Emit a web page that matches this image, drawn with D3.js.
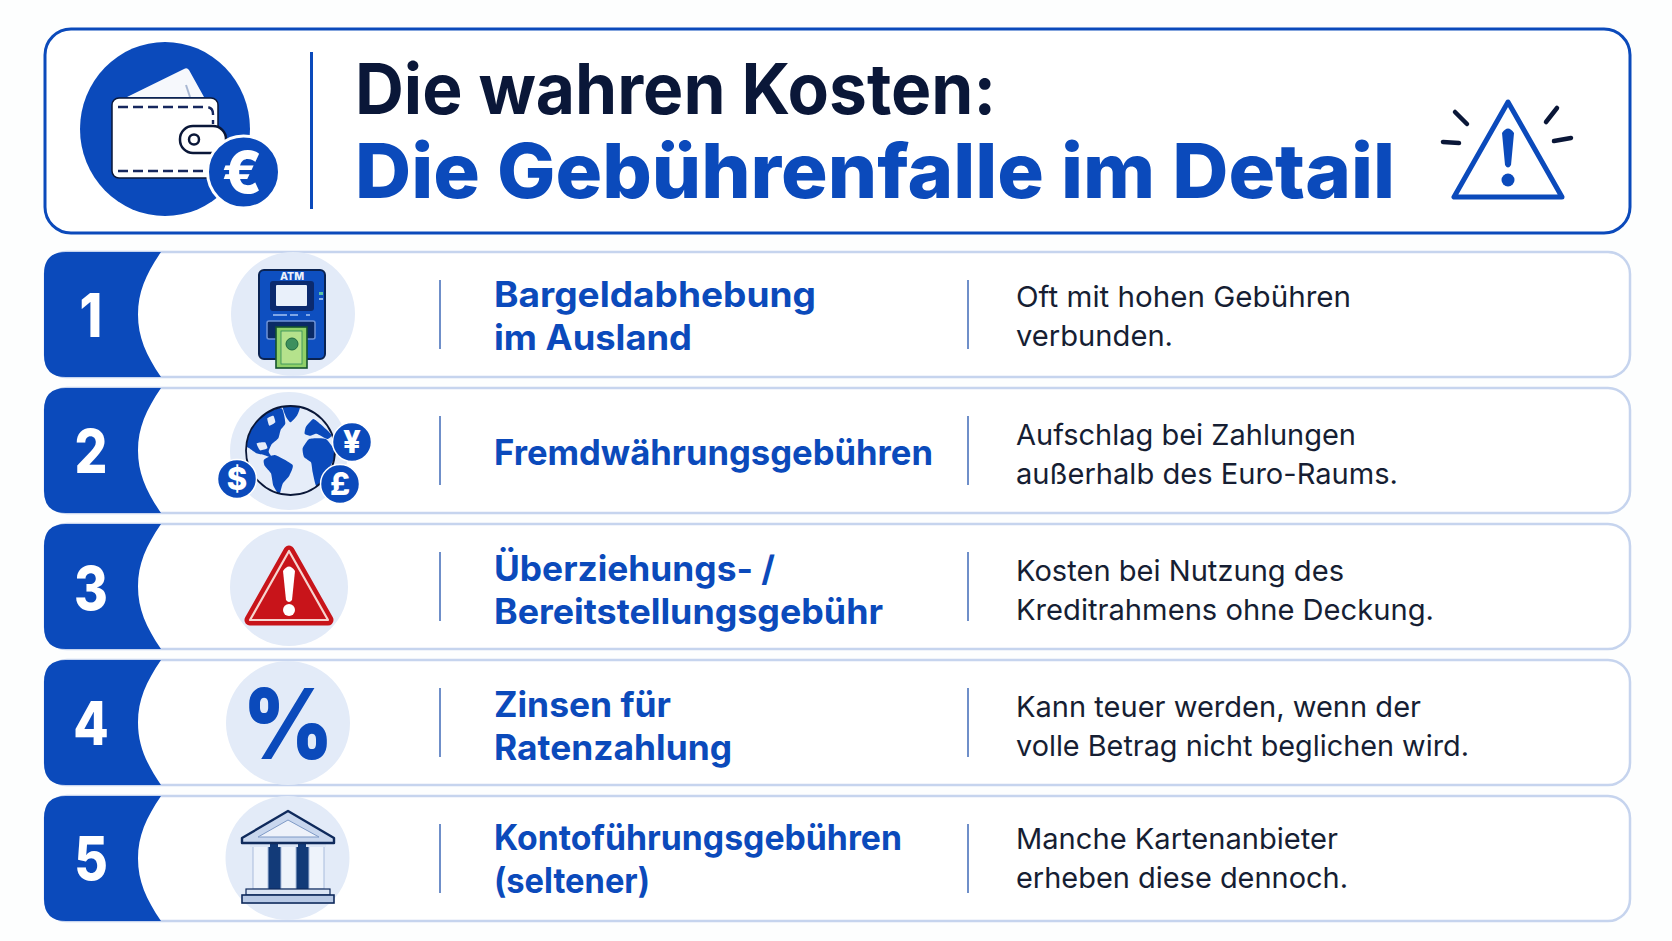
<!DOCTYPE html>
<html lang="de">
<head>
<meta charset="utf-8">
<title>Die wahren Kosten</title>
<script src="https://cdn.jsdelivr.net/npm/d3@7"></script>
<style>
  body { margin: 0; background: #fdfefe; }
  svg { display: block; }
  text { font-family: Inter, "Noto Sans", sans-serif; }
</style>
</head>
<body>
<div id="chart"></div>
<script>
const titleLine = 'Die wahren Kosten:';
const subtitleLine = 'Die Gebührenfalle im Detail';
const rowNumbers = ['1', '2', '3', '4', '5'];
const rowHeadings = [
  ['Bargeldabhebung', 'im Ausland'],
  ['Fremdwährungsgebühren'],
  ['Überziehungs- /', 'Bereitstellungsgebühr'],
  ['Zinsen für', 'Ratenzahlung'],
  ['Kontoführungsgebühren', '(seltener)'],
];
const rowTexts = [
  ['Oft mit hohen Gebühren', 'verbunden.'],
  ['Aufschlag bei Zahlungen', 'außerhalb des Euro-Raums.'],
  ['Kosten bei Nutzung des', 'Kreditrahmens ohne Deckung.'],
  ['Kann teuer werden, wenn der', 'volle Betrag nicht beglichen wird.'],
  ['Manche Kartenanbieter', 'erheben diese dennoch.'],
];

const width = 1672;
const height = 941;
const blue = '#0b4abb';
const navy = '#0a1738';
const pale = '#e3ebf8';
const edge = '#c6d4ee';

const headingWidths = [[322, 198], [439], [281, 389], [177, 238], [408, 156]];
const textWidths = [[335, 157], [340, 382], [328, 418], [405, 453], [322, 332]];
const headingNudge = [0, 0, 2, 2, -1];
const textNudge = [0, 2, 2, 1.5, -2];
const numberNudge = [1, 1, 1, 0, -1];

const svg = d3.select('#chart').append('svg')
  .attr('width', width)
  .attr('height', height)
  .attr('viewBox', `0 0 ${width} ${height}`);

svg.append('rect').attr('width', width).attr('height', height).attr('fill', '#fdfefe');

// Header box
const header = svg.append('g');
header.append('rect')
  .attr('x', 45).attr('y', 29).attr('width', 1585).attr('height', 204).attr('rx', 26)
  .attr('fill', '#fff').attr('stroke', blue).attr('stroke-width', 3);
header.append('line')
  .attr('x1', 311.5).attr('x2', 311.5).attr('y1', 52).attr('y2', 209)
  .attr('stroke', blue).attr('stroke-width', 3);
header.append('text').text(titleLine)
  .attr('x', 355).attr('y', 114)
  .attr('textLength', 641).attr('lengthAdjust', 'spacingAndGlyphs')
  .attr('font-size', 70).attr('font-weight', 700).attr('fill', navy);
header.append('text').text(subtitleLine)
  .attr('x', 355).attr('y', 198)
  .attr('textLength', 1040).attr('lengthAdjust', 'spacingAndGlyphs')
  .attr('font-size', 76).attr('font-weight', 800).attr('fill', blue);

// Wallet badge
const wallet = svg.append('g');
wallet.append('ellipse')
  .attr('cx', 165).attr('cy', 129).attr('rx', 85).attr('ry', 87).attr('fill', blue);
wallet.append('path')
  .attr('d', 'M127,97 L184,69 Q187,67 189,70 L204,97 Z')
  .attr('fill', '#f6f8fc');
wallet.append('path')
  .attr('d', 'M186,85 L190,97')
  .attr('fill', 'none').attr('stroke', '#a9b8d2').attr('stroke-width', 2);
wallet.append('rect')
  .attr('x', 112).attr('y', 98).attr('width', 106).attr('height', 80).attr('rx', 7)
  .attr('fill', '#fff').attr('stroke', navy).attr('stroke-width', 1.5);
wallet.append('path')
  .attr('d', 'M118,107 H206 Q213,107 213,114 V124 M118,171 H212')
  .attr('fill', 'none').attr('stroke', '#16275e').attr('stroke-width', 2.4).attr('stroke-dasharray', '10 5');
wallet.append('rect')
  .attr('x', 180).attr('y', 126).attr('width', 46).attr('height', 27).attr('rx', 13)
  .attr('fill', '#fff').attr('stroke', navy).attr('stroke-width', 2.5);
wallet.append('circle')
  .attr('cx', 194).attr('cy', 139.5).attr('r', 5)
  .attr('fill', '#fff').attr('stroke', navy).attr('stroke-width', 2.5);
wallet.append('circle')
  .attr('cx', 243.5).attr('cy', 172).attr('r', 36)
  .attr('fill', blue).attr('stroke', '#fff').attr('stroke-width', 3);
wallet.append('text').text('€')
  .attr('x', 242).attr('y', 193).attr('text-anchor', 'middle')
  .attr('font-size', 58).attr('font-weight', 800).attr('fill', '#fff');

// Warning triangle, top right
const warn = svg.append('g');
warn.append('path')
  .attr('d', 'M1508,102 L1454,197 H1562 Z')
  .attr('fill', 'none').attr('stroke', blue).attr('stroke-width', 5).attr('stroke-linejoin', 'round');
warn.append('path')
  .attr('d', 'M1502,133 Q1508,124 1514,133 L1511,165 Q1508,170 1505,165 Z')
  .attr('fill', blue);
warn.append('circle').attr('cx', 1508).attr('cy', 180).attr('r', 6.5).attr('fill', blue);
warn.selectAll('line')
  .data([[1455, 112, 1467, 124], [1443, 142, 1459, 143], [1557, 108, 1546, 122], [1554, 141, 1571, 138]])
  .join('line')
  .attr('x1', d => d[0]).attr('y1', d => d[1])
  .attr('x2', d => d[2]).attr('y2', d => d[3])
  .attr('stroke', navy).attr('stroke-width', 4.5).attr('stroke-linecap', 'round');

// Rows
const rowY = d3.scaleBand().domain(rowNumbers).range([252, 921]).paddingInner(0.081);
const rowH = rowY.bandwidth();

const rows = svg.selectAll('g.row')
  .data(rowNumbers)
  .join('g')
  .attr('class', 'row')
  .attr('transform', d => `translate(0, ${rowY(d)})`);

rows.append('rect')
  .attr('x', 45).attr('y', 0).attr('width', 1585).attr('height', rowH).attr('rx', 22)
  .attr('fill', '#fff').attr('stroke', edge).attr('stroke-width', 2.5);

rows.append('path')
  .attr('d', `M161,0 H66 Q44,0 44,22 V${rowH - 22} Q44,${rowH} 66,${rowH} H161 C146,${rowH - 22} 138,${rowH - 40} 138,${rowH / 2} C138,40 146,22 161,0 Z`)
  .attr('fill', blue);

// Digits in the reference are a bit narrower than Inter
rows.append('text').text(d => d)
  .attr('transform', (d, i) => `translate(91, ${rowH / 2 + 22 + numberNudge[i]}) scale(0.86, 1)`)
  .attr('text-anchor', 'middle')
  .attr('font-size', 60).attr('font-weight', 800).attr('fill', '#fff');

rows.selectAll('line.sep')
  .data([440, 968])
  .join('line')
  .attr('class', 'sep')
  .attr('x1', d => d).attr('x2', d => d)
  .attr('y1', 28).attr('y2', 97)
  .attr('stroke', '#6f8fc9').attr('stroke-width', 2);

// Heading and description lines
rows.each(function (d, i) {
  const row = d3.select(this);
  const heading = rowHeadings[i];
  const headingY = d3.scalePoint().domain(d3.range(heading.length)).range([55, 98]);
  row.selectAll('text.head')
    .data(heading)
    .join('text')
    .attr('class', 'head')
    .text(t => t)
    .attr('x', 494)
    .attr('y', (t, j) => (heading.length === 1 ? 77 : headingY(j)) + headingNudge[i])
    .attr('textLength', (t, j) => headingWidths[i][j])
    .attr('lengthAdjust', 'spacingAndGlyphs')
    .attr('font-size', 35).attr('font-weight', 700).attr('fill', blue);
  row.selectAll('text.desc')
    .data(rowTexts[i])
    .join('text')
    .attr('class', 'desc')
    .text(t => t)
    .attr('x', 1016)
    .attr('y', (t, j) => 55 + j * 39 + textNudge[i])
    .attr('textLength', (t, j) => textWidths[i][j])
    .attr('lengthAdjust', 'spacingAndGlyphs')
    .attr('font-size', 29).attr('font-weight', 400).attr('fill', '#161e33');
});

function coin(g, x, y, label) {
  g.append('circle').attr('cx', x).attr('cy', y).attr('r', 19.5)
    .attr('fill', blue).attr('stroke', '#fff').attr('stroke-width', 1.5);
  g.append('text').text(label)
    .attr('x', x).attr('y', y + 11).attr('text-anchor', 'middle')
    .attr('font-size', 31).attr('font-weight', 800).attr('fill', '#fff');
}

function drawAtm(g) {
  g.append('circle').attr('cx', 293).attr('cy', 62).attr('r', 62).attr('fill', pale);
  g.append('rect').attr('x', 259).attr('y', 18).attr('width', 66).attr('height', 89).attr('rx', 5)
    .attr('fill', '#0e4fc0').attr('stroke', '#0a2352').attr('stroke-width', 2);
  g.append('text').text('ATM').attr('x', 292).attr('y', 28).attr('text-anchor', 'middle')
    .attr('font-size', 10.5).attr('font-weight', 800).attr('fill', '#eaf1fb');
  g.append('rect').attr('x', 270).attr('y', 29).attr('width', 44).attr('height', 30).attr('rx', 3).attr('fill', '#0b2a6e');
  g.append('rect').attr('x', 276).attr('y', 33).attr('width', 31).attr('height', 21).attr('rx', 1).attr('fill', '#e9f0fa');
  g.append('rect').attr('x', 319).attr('y', 40).attr('width', 4).attr('height', 3).attr('fill', '#5fc3a0');
  g.append('rect').attr('x', 319).attr('y', 46).attr('width', 4).attr('height', 2).attr('fill', '#8fb4ea');
  g.append('line').attr('x1', 273).attr('x2', 310).attr('y1', 63).attr('y2', 63)
    .attr('stroke', '#7fa6e6').attr('stroke-width', 2).attr('stroke-dasharray', '14 3 8 8 6');
  g.append('rect').attr('x', 267).attr('y', 69).attr('width', 48).attr('height', 18).attr('rx', 2)
    .attr('fill', '#0a2a66').attr('stroke', '#6f93d6').attr('stroke-width', 1.5);
  g.append('rect').attr('x', 276).attr('y', 75).attr('width', 31).attr('height', 41)
    .attr('fill', '#8fd068').attr('stroke', '#14532d').attr('stroke-width', 1.6);
  g.append('rect').attr('x', 281).attr('y', 79).attr('width', 21).attr('height', 33)
    .attr('fill', '#b5e28c').attr('stroke', '#2e8b57').attr('stroke-width', 0.8);
  g.append('circle').attr('cx', 292).attr('cy', 92).attr('r', 6)
    .attr('fill', '#3d8f5e').attr('stroke', '#1f6b41').attr('stroke-width', 1);
}

function drawGlobe(g) {
  g.append('circle').attr('cx', 289).attr('cy', 63).attr('r', 59).attr('fill', pale);
  g.append('circle').attr('cx', 290.5).attr('cy', 62.5).attr('r', 44.5).attr('fill', '#e6edf9');
  svg.append('clipPath').attr('id', 'globe-clip')
    .append('circle').attr('cx', 241.5).attr('cy', 197).attr('r', 133);
  // Continents traced in a 3x crop, hence the scale
  const land = [
    [[100, 175], [112, 120], [160, 72], [215, 70], [226, 115], [212, 135], [205, 160], [185, 178], [176, 200], [186, 218], [162, 210], [140, 205], [118, 190]],
    [[218, 60], [270, 60], [262, 90], [242, 112], [228, 95]],
    [[162, 224], [195, 210], [248, 240], [238, 272], [218, 296], [208, 328], [190, 302], [183, 265], [164, 242]],
    [[278, 190], [298, 162], [348, 162], [378, 205], [362, 242], [348, 265], [337, 302], [318, 302], [308, 262], [303, 232], [282, 216]],
    [[288, 125], [310, 102], [332, 118], [365, 150], [352, 162], [320, 146], [300, 152], [284, 146]],
  ];
  const lakes = [
    [[140, 175], [165, 172], [172, 190], [150, 196]],
    [[172, 100], [190, 92], [196, 112], [178, 122]],
  ];
  const blob = d3.line().curve(d3.curveCardinalClosed.tension(0.5));
  const map = g.append('g')
    .attr('transform', 'translate(210, -3) scale(0.3333)')
    .attr('clip-path', 'url(#globe-clip)');
  map.selectAll('path.land')
    .data(land)
    .join('path')
    .attr('class', 'land')
    .attr('d', d => blob(d))
    .attr('fill', blue);
  map.selectAll('path.lake')
    .data(lakes)
    .join('path')
    .attr('class', 'lake')
    .attr('d', d => blob(d))
    .attr('fill', '#e6edf9');
  g.append('circle').attr('cx', 290.5).attr('cy', 62.5).attr('r', 44.5)
    .attr('fill', 'none').attr('stroke', navy).attr('stroke-width', 1.8);
  coin(g, 237, 91, '$');
  coin(g, 352, 54, '¥');
  coin(g, 340, 96, '£');
}

function drawAlert(g) {
  g.append('circle').attr('cx', 289).attr('cy', 63).attr('r', 59).attr('fill', pale);
  g.append('path').attr('d', 'M289,27 L250,96 H328 Z')
    .attr('fill', '#c8141a').attr('stroke', '#c8141a').attr('stroke-width', 11).attr('stroke-linejoin', 'round');
  g.append('path').attr('d', 'M289,27 L250,96 H328 Z')
    .attr('fill', '#c8141a').attr('stroke', '#f6d5d0').attr('stroke-width', 2.2).attr('stroke-linejoin', 'round');
  g.append('path').attr('d', 'M283,47 Q289,38 295,47 L292,76 Q289,80 286,76 Z').attr('fill', '#fff');
  g.append('circle').attr('cx', 289).attr('cy', 86).attr('r', 6).attr('fill', '#fff');
}

function drawPercent(g) {
  g.append('circle').attr('cx', 288).attr('cy', 63).attr('r', 62).attr('fill', pale);
  g.append('text').text('%')
    .attr('transform', 'translate(288, 99) scale(0.88, 1)')
    .attr('text-anchor', 'middle')
    .attr('font-size', 98).attr('font-weight', 900).attr('fill', blue);
}

function drawBank(g) {
  g.append('circle').attr('cx', 287.5).attr('cy', 62).attr('r', 62).attr('fill', pale);
  const stroke = '#0f2a5c';
  g.append('rect').attr('x', 265).attr('y', 47).attr('width', 45).attr('height', 46).attr('fill', '#123a78');
  g.selectAll('rect.col')
    .data([253, 281, 309])
    .join('rect')
    .attr('class', 'col')
    .attr('x', d => d).attr('y', 50).attr('width', 15).attr('height', 43)
    .attr('fill', '#eef3fb').attr('stroke', '#a9bcdc').attr('stroke-width', 1);
  g.selectAll('rect.cap')
    .data([250, 278, 306])
    .join('rect')
    .attr('class', 'cap')
    .attr('x', d => d).attr('y', 47).attr('width', 20).attr('height', 4)
    .attr('fill', '#dbe5f5');
  g.append('path').attr('d', 'M288,15 L242,42 V47 H334 V42 Z')
    .attr('fill', '#c9d7ee').attr('stroke', stroke).attr('stroke-width', 2.4).attr('stroke-linejoin', 'round');
  g.append('path').attr('d', 'M288,24 L258,41 H319 Z')
    .attr('fill', '#eef2fa').attr('stroke', '#7f9ac6').attr('stroke-width', 1);
  g.append('rect').attr('x', 246).attr('y', 93).attr('width', 84).attr('height', 6)
    .attr('fill', '#dbe5f5').attr('stroke', stroke).attr('stroke-width', 1.2);
  g.append('rect').attr('x', 242).attr('y', 99).attr('width', 92).attr('height', 8)
    .attr('fill', '#b9cae6').attr('stroke', stroke).attr('stroke-width', 1.6);
}

const iconDrawers = [drawAtm, drawGlobe, drawAlert, drawPercent, drawBank];
rows.each(function (d, i) {
  iconDrawers[i](d3.select(this).append('g'));
});
</script>
</body>
</html>
